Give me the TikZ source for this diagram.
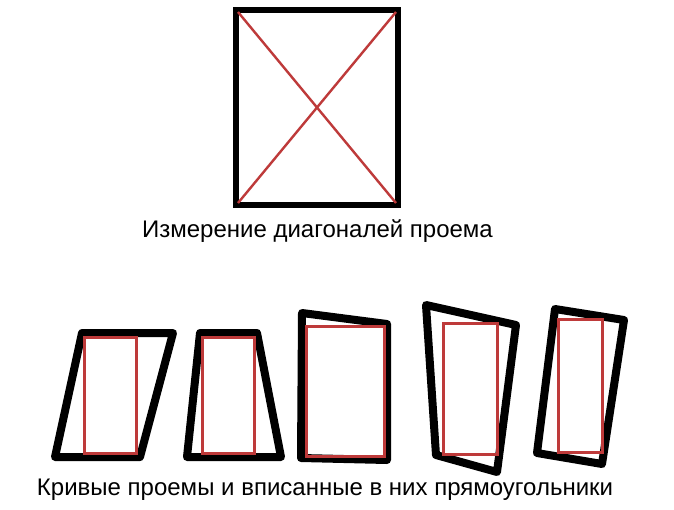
\documentclass[tikz,border=0pt]{standalone}
\usepackage{fontspec}
\setmainfont{Liberation Sans}
\definecolor{diagred}{RGB}{190,58,58}
\tikzset{
  frame/.style={draw=black, line width=8pt, line join=round},
  topframe/.style={draw=black, line width=6pt},
  inrect/.style={draw=diagred, line width=3pt},
  diag/.style={draw=diagred, line width=2.4pt},
  lbl/.style={font=\fontsize{24}{28}\selectfont, inner sep=0pt}
}
\begin{document}
\begin{tikzpicture}[x=1pt,y=-1pt]
\useasboundingbox (0,0) rectangle (674,509);
\fill[white] (0,0) rectangle (674,509);
% top opening with diagonals
\draw[topframe] (235.5,9.5) rectangle (398,204.5);
\draw[diag] (238,12) -- (396,203);
\draw[diag] (396,12) -- (238,203);
\node[lbl] (t1) at (317.5,231) {Измерение диагоналей проема};
% bottom openings
\draw[frame] (82,333) -- (173,333) -- (140,457) -- (55,457) -- cycle;
\draw[inrect] (84,337) rectangle (136,453);
\draw[frame] (200,333) -- (257,333) -- (281,457) -- (187,457) -- cycle;
\draw[inrect] (202,337) rectangle (254,453);
\draw[frame] (302,313) -- (387,324) -- (387,460) -- (301,458) -- cycle;
\draw[inrect] (306,326) rectangle (384,456);
\draw[frame] (426,305) -- (516,325) -- (497,472) -- (436,455) -- cycle;
\draw[inrect] (443,323) rectangle (497,454);
\draw[frame] (555,309) -- (624,320) -- (602,464) -- (537,453) -- cycle;
\draw[inrect] (558,319) rectangle (602,452);
\node[lbl] (t2) at (325,490) {Кривые проемы и вписанные в них прямоугольники};
\end{tikzpicture}
\end{document}
